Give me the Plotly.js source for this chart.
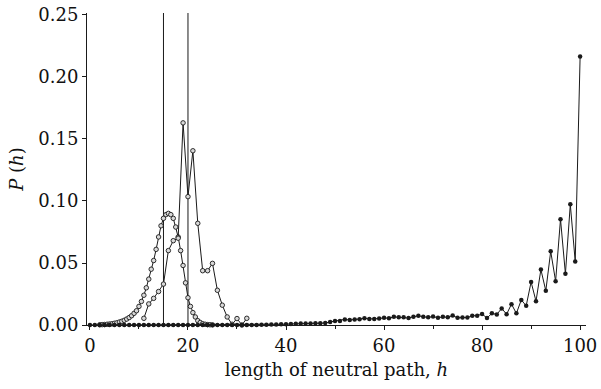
<!DOCTYPE html>
<html>
<head>
<meta charset="utf-8">
<script src="https://cdn.plot.ly/plotly-3.0.1.min.js"></script>
<style>html,body{margin:0;padding:0;background:#fff;}#chart{width:601px;height:389px;}</style>
</head>
<body>
<div id="chart"></div>
<script>
// Filled dots: h = 0..100
const dotsH = Array.from({length: 101}, (_, i) => i);
const dotsP = [
  0,0,0,0,0,0,0,0,0,0,            // 0-9
  0,0,0,0,0,0,0,0,0,0,            // 10-19
  0,0,0,0,0,0,0,0,0,0,            // 20-29
  0,0,0,0,0,0.0002,0.0003,0.0004,0.0005,0.0006, // 30-39
  0.0007,0.0009,0.0011,0.0012,0.0013,0.0013,0.0014,0.0015,0.0016,0.0025, // 40-49
  0.0032,0.0033,0.0045,0.004,0.0044,0.0047,0.0054,0.0049,0.0049,0.0052, // 50-59
  0.0058,0.0054,0.0066,0.0062,0.0062,0.0056,0.0066,0.0074,0.0066,0.0062, // 60-69
  0.0068,0.0058,0.0066,0.0062,0.0076,0.0058,0.006,0.006,0.0075,0.0075,  // 70-79
  0.0089,0.0056,0.0094,0.0085,0.0134,0.0087,0.0168,0.0094,0.0202,0.0155, // 80-89
  0.0347,0.0192,0.0447,0.0276,0.0594,0.0353,0.0853,0.0413,0.0973,0.0513, // 90-99
  0.2165                                                                  // 100
];

// Open circles, broad bell (half-unit steps)
const bellH = [2,2.5,3,3.5,4,4.5,5,5.5,6,6.5,7,7.5,8,8.5,9,9.5,10,10.5,11,11.5,12,12.5,13,13.5,14,14.5,15,15.5,16,16.5,17,17.5,18,18.5,19,19.5,20,20.5,21,21.5,22,22.5,23,23.5,24,24.5,25];
const bellP = [0.0002,0.0003,0.0004,0.0006,0.0008,0.001,0.0014,0.0018,0.0024,0.003,0.0038,0.0048,0.006,0.0075,0.0094,0.0115,0.015,0.019,0.024,0.030,0.037,0.045,0.052,0.061,0.071,0.080,0.086,0.089,0.090,0.089,0.086,0.079,0.071,0.060,0.048,0.034,0.022,0.015,0.010,0.0065,0.0035,0.002,0.001,0.0006,0.0003,0.0002,0.0001];

// Open circles, jagged curve
const jagH = [11,12,13,14,15,16,17,18,19,20,21,22,23,24,25,26,27,28,29,30,31,32];
const jagP = [0.0054,0.017,0.0215,0.027,0.033,0.060,0.068,0.070,0.163,0.1035,0.1405,0.082,0.0438,0.0438,0.0497,0.028,0.016,0.0065,0.0006,0.0052,0,0.0054];

// Off-scale spike (no markers)
const spikeH = [15,15,20,20];
const spikeP = [0,1,1,0];

// Tick labels
const xTicks = [0,20,40,60,80,100];
const xMinorTicks = [10,30,50,70,90];
const yTicks = [0, 0.05, 0.10, 0.15, 0.20, 0.25];
const yTickText = ['0.00','0.05','0.10','0.15','0.20','0.25'];

const lineCol = '#1a1a1a';
const traces = [
  {x: spikeH, y: spikeP, mode: 'lines', line: {color: lineCol, width: 1}, hoverinfo: 'skip'},
  {x: bellH, y: bellP, mode: 'lines+markers', cliponaxis: false,
   line: {color: lineCol, width: 1},
   marker: {symbol: 'circle', size: 4.5, color: '#d8d8d8', line: {color: lineCol, width: 0.9}}},
  {x: jagH, y: jagP, mode: 'lines+markers', cliponaxis: false,
   line: {color: lineCol, width: 1},
   marker: {symbol: 'circle', size: 4.5, color: '#d8d8d8', line: {color: lineCol, width: 0.9}}},
  {x: dotsH, y: dotsP, mode: 'lines+markers', cliponaxis: false,
   line: {color: lineCol, width: 1},
   marker: {symbol: 'circle', size: 4.5, color: lineCol}}
];

const font = {family: 'DejaVu Serif, serif', size: 18, color: '#111'};
const layout = {
  width: 601, height: 389,
  margin: {l: 87, r: 15, t: 13, b: 64},
  paper_bgcolor: '#fff', plot_bgcolor: '#fff',
  showlegend: false,
  font: font,
  xaxis: {
    range: [-0.6, 101.2], showgrid: false, zeroline: false,
    showline: true, linecolor: lineCol, linewidth: 1,
    ticks: 'outside', ticklen: 4, tickcolor: lineCol, tickwidth: 1,
    tickvals: xTicks,
    minor: {tickvals: xMinorTicks, ticks: 'outside', ticklen: 3, tickcolor: lineCol},
    tickfont: font,
    title: {text: 'length of neutral path, <i>h</i>', font: font, standoff: 8}
  },
  yaxis: {
    range: [0, 0.2516], showgrid: false, zeroline: false,
    showline: true, linecolor: lineCol, linewidth: 1,
    ticks: 'outside', ticklen: 4, tickcolor: lineCol, tickwidth: 1,
    tickvals: yTicks, ticktext: yTickText,
    tickfont: font,
    title: {text: '<i>P</i> (<i>h</i>)', font: font, standoff: 10}
  }
};

Plotly.newPlot('chart', traces, layout, {staticPlot: true, displayModeBar: false});
</script>
</body>
</html>
